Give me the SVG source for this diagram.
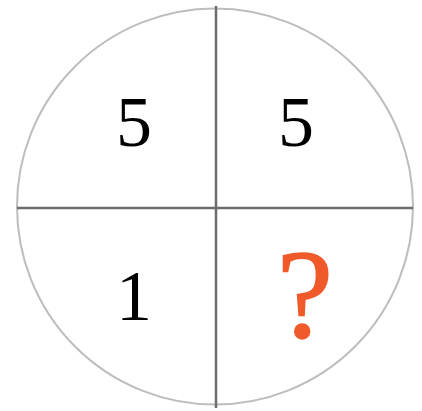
<svg xmlns="http://www.w3.org/2000/svg" width="422" height="411" viewBox="0 0 422 411">
<style>
.num{font-family:"Liberation Serif","Times New Roman",serif;font-size:72px;fill:#000;text-anchor:middle}
.q{font-family:"Liberation Serif","Times New Roman",serif;font-size:126px;fill:#F05A2A;stroke:#F05A2A;stroke-width:1.5;text-anchor:middle}
</style>
<rect width="422" height="411" fill="#fff"/>
<g id="circle"><circle cx="215" cy="206.5" r="198" fill="none" stroke="#bdbdbd" stroke-width="2"/></g>
<g id="connectors" stroke="#6d6d70" stroke-width="2.5">
<line x1="216" y1="6" x2="216" y2="408"/>
<line x1="17" y1="208" x2="413" y2="208"/>
</g>
<g id="q1"><text class="num" x="134" y="146">5</text></g>
<g id="q2"><text class="num" x="296" y="146">5</text></g>
<g id="q3"><text class="num" x="134" y="320">1</text></g>
<g id="q4"><text class="q" x="305" y="337">?</text></g>
</svg>
